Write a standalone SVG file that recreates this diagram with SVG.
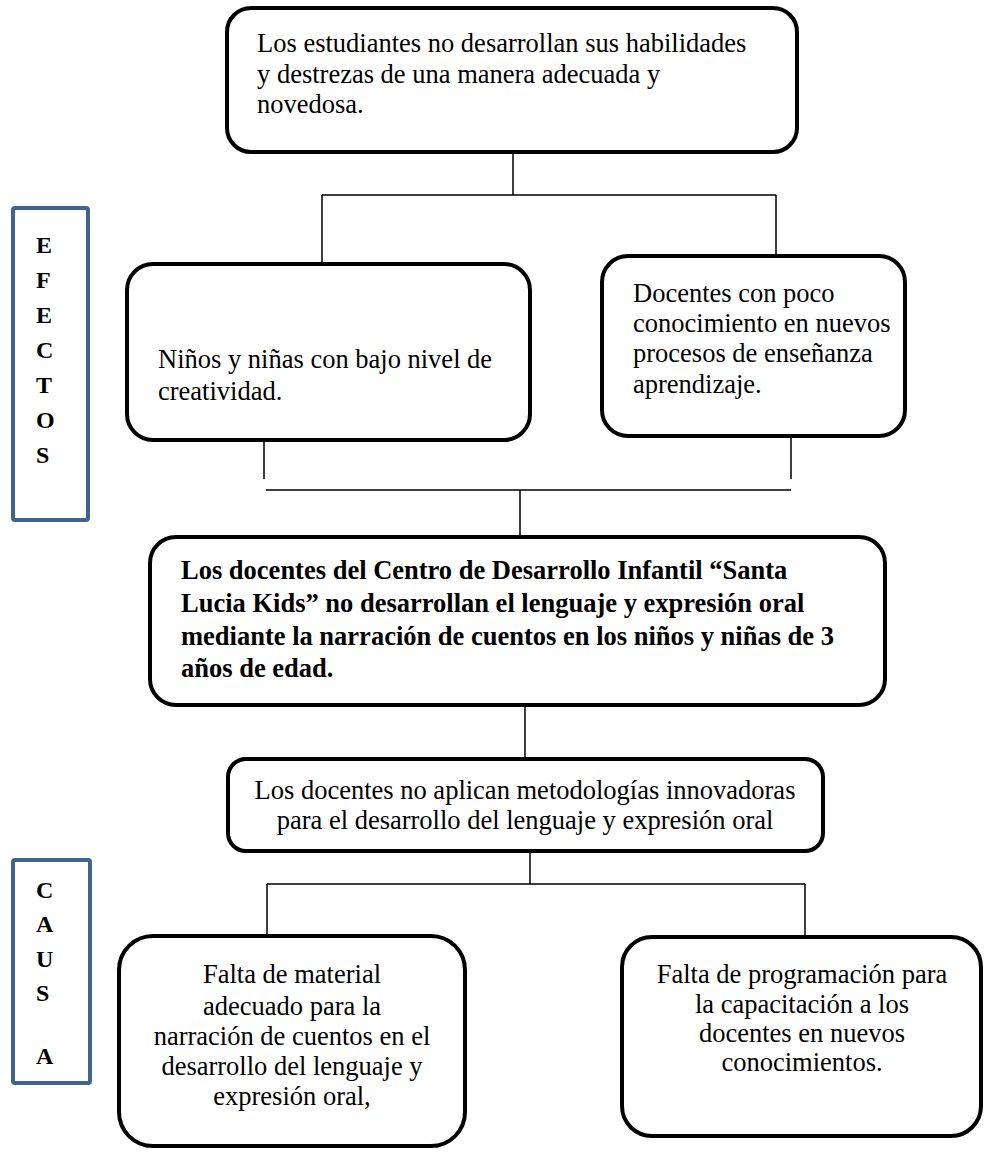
<svg xmlns="http://www.w3.org/2000/svg" width="985" height="1153" viewBox="0 0 985 1153">
<style>
.box{fill:#fff;stroke:#000;stroke-width:4}
.side{fill:#fff;stroke:#41648f;stroke-width:4}
.t{font-family:"Liberation Serif","Times New Roman",serif;font-size:26.5px;fill:#000}
.b{font-family:"Liberation Serif","Times New Roman",serif;font-size:26.5px;font-weight:bold;fill:#000}
.l{font-family:"Liberation Serif","Times New Roman",serif;font-size:24px;font-weight:bold;fill:#000}
.c{text-anchor:middle}
.con{stroke:#000;stroke-width:1.5;fill:none}
</style>
<g id="connectors">
<path class="con" d="M513 152V195M322 195H776M322 195V264M776 195V256"/>
<path class="con" d="M264 440V479M791 436V479M266 490H791M520 490V537"/>
<path class="con" d="M525 705V759M530 851V884M267 884H805M267 884V936M805 884V937"/>
</g>
<g id="efectos">
<rect class="side" x="13" y="208" width="75" height="312" rx="2"/>
<text class="l" x="36" y="253">E</text>
<text class="l" x="36" y="288">F</text>
<text class="l" x="36" y="323">E</text>
<text class="l" x="36" y="358">C</text>
<text class="l" x="36" y="393">T</text>
<text class="l" x="36" y="428">O</text>
<text class="l" x="36" y="463">S</text>
</g>
<g id="causa">
<rect class="side" x="13" y="860" width="77" height="223" rx="2"/>
<text class="l" x="36" y="898">C</text>
<text class="l" x="36" y="932">A</text>
<text class="l" x="36" y="967">U</text>
<text class="l" x="36" y="1001">S</text>
<text class="l" x="36" y="1064">A</text>
</g>
<g id="top">
<rect class="box" x="227" y="8" width="570" height="144" rx="24"/>
<text class="t" x="257" y="52">Los estudiantes no desarrollan sus habilidades</text>
<text class="t" x="257" y="83">y destrezas de una manera adecuada y</text>
<text class="t" x="257" y="113">novedosa.</text>
</g>
<g id="left-effect">
<rect class="box" x="127" y="264" width="403" height="176" rx="26"/>
<text class="t" x="158" y="368">Niños y niñas con bajo nivel de</text>
<text class="t" x="158" y="400">creatividad.</text>
</g>
<g id="right-effect">
<rect class="box" x="602" y="256" width="303" height="180" rx="26"/>
<text class="t" x="633" y="302">Docentes con poco</text>
<text class="t" x="633" y="332">conocimiento en nuevos</text>
<text class="t" x="633" y="362">procesos de enseñanza</text>
<text class="t" x="633" y="393">aprendizaje.</text>
</g>
<g id="problem">
<rect class="box" x="150" y="537" width="735" height="168" rx="26"/>
<text class="b" x="181" y="579">Los docentes del Centro de Desarrollo Infantil “Santa</text>
<text class="b" x="181" y="612">Lucia Kids” no desarrollan el lenguaje y expresión oral</text>
<text class="b" x="181" y="645">mediante la narración de cuentos en los niños y niñas de 3</text>
<text class="b" x="181" y="677">años de edad.</text>
</g>
<g id="cause-main">
<rect class="box" x="228" y="759" width="595" height="92" rx="18"/>
<text class="t c" x="525" y="799">Los docentes no aplican metodologías innovadoras</text>
<text class="t c" x="525" y="829">para el desarrollo del lenguaje y expresión oral</text>
</g>
<g id="cause-left">
<rect class="box" x="119" y="936" width="346" height="210" rx="34"/>
<text class="t c" x="292" y="983">Falta de material</text>
<text class="t c" x="292" y="1015">adecuado para la</text>
<text class="t c" x="292" y="1045">narración de cuentos en el</text>
<text class="t c" x="292" y="1075">desarrollo del lenguaje y</text>
<text class="t c" x="292" y="1105">expresión oral,</text>
</g>
<g id="cause-right">
<rect class="box" x="622" y="937" width="359" height="199" rx="30"/>
<text class="t c" x="802" y="983">Falta de programación para</text>
<text class="t c" x="802" y="1013">la capacitación a los</text>
<text class="t c" x="802" y="1042">docentes en nuevos</text>
<text class="t c" x="802" y="1071">conocimientos.</text>
</g>
</svg>
